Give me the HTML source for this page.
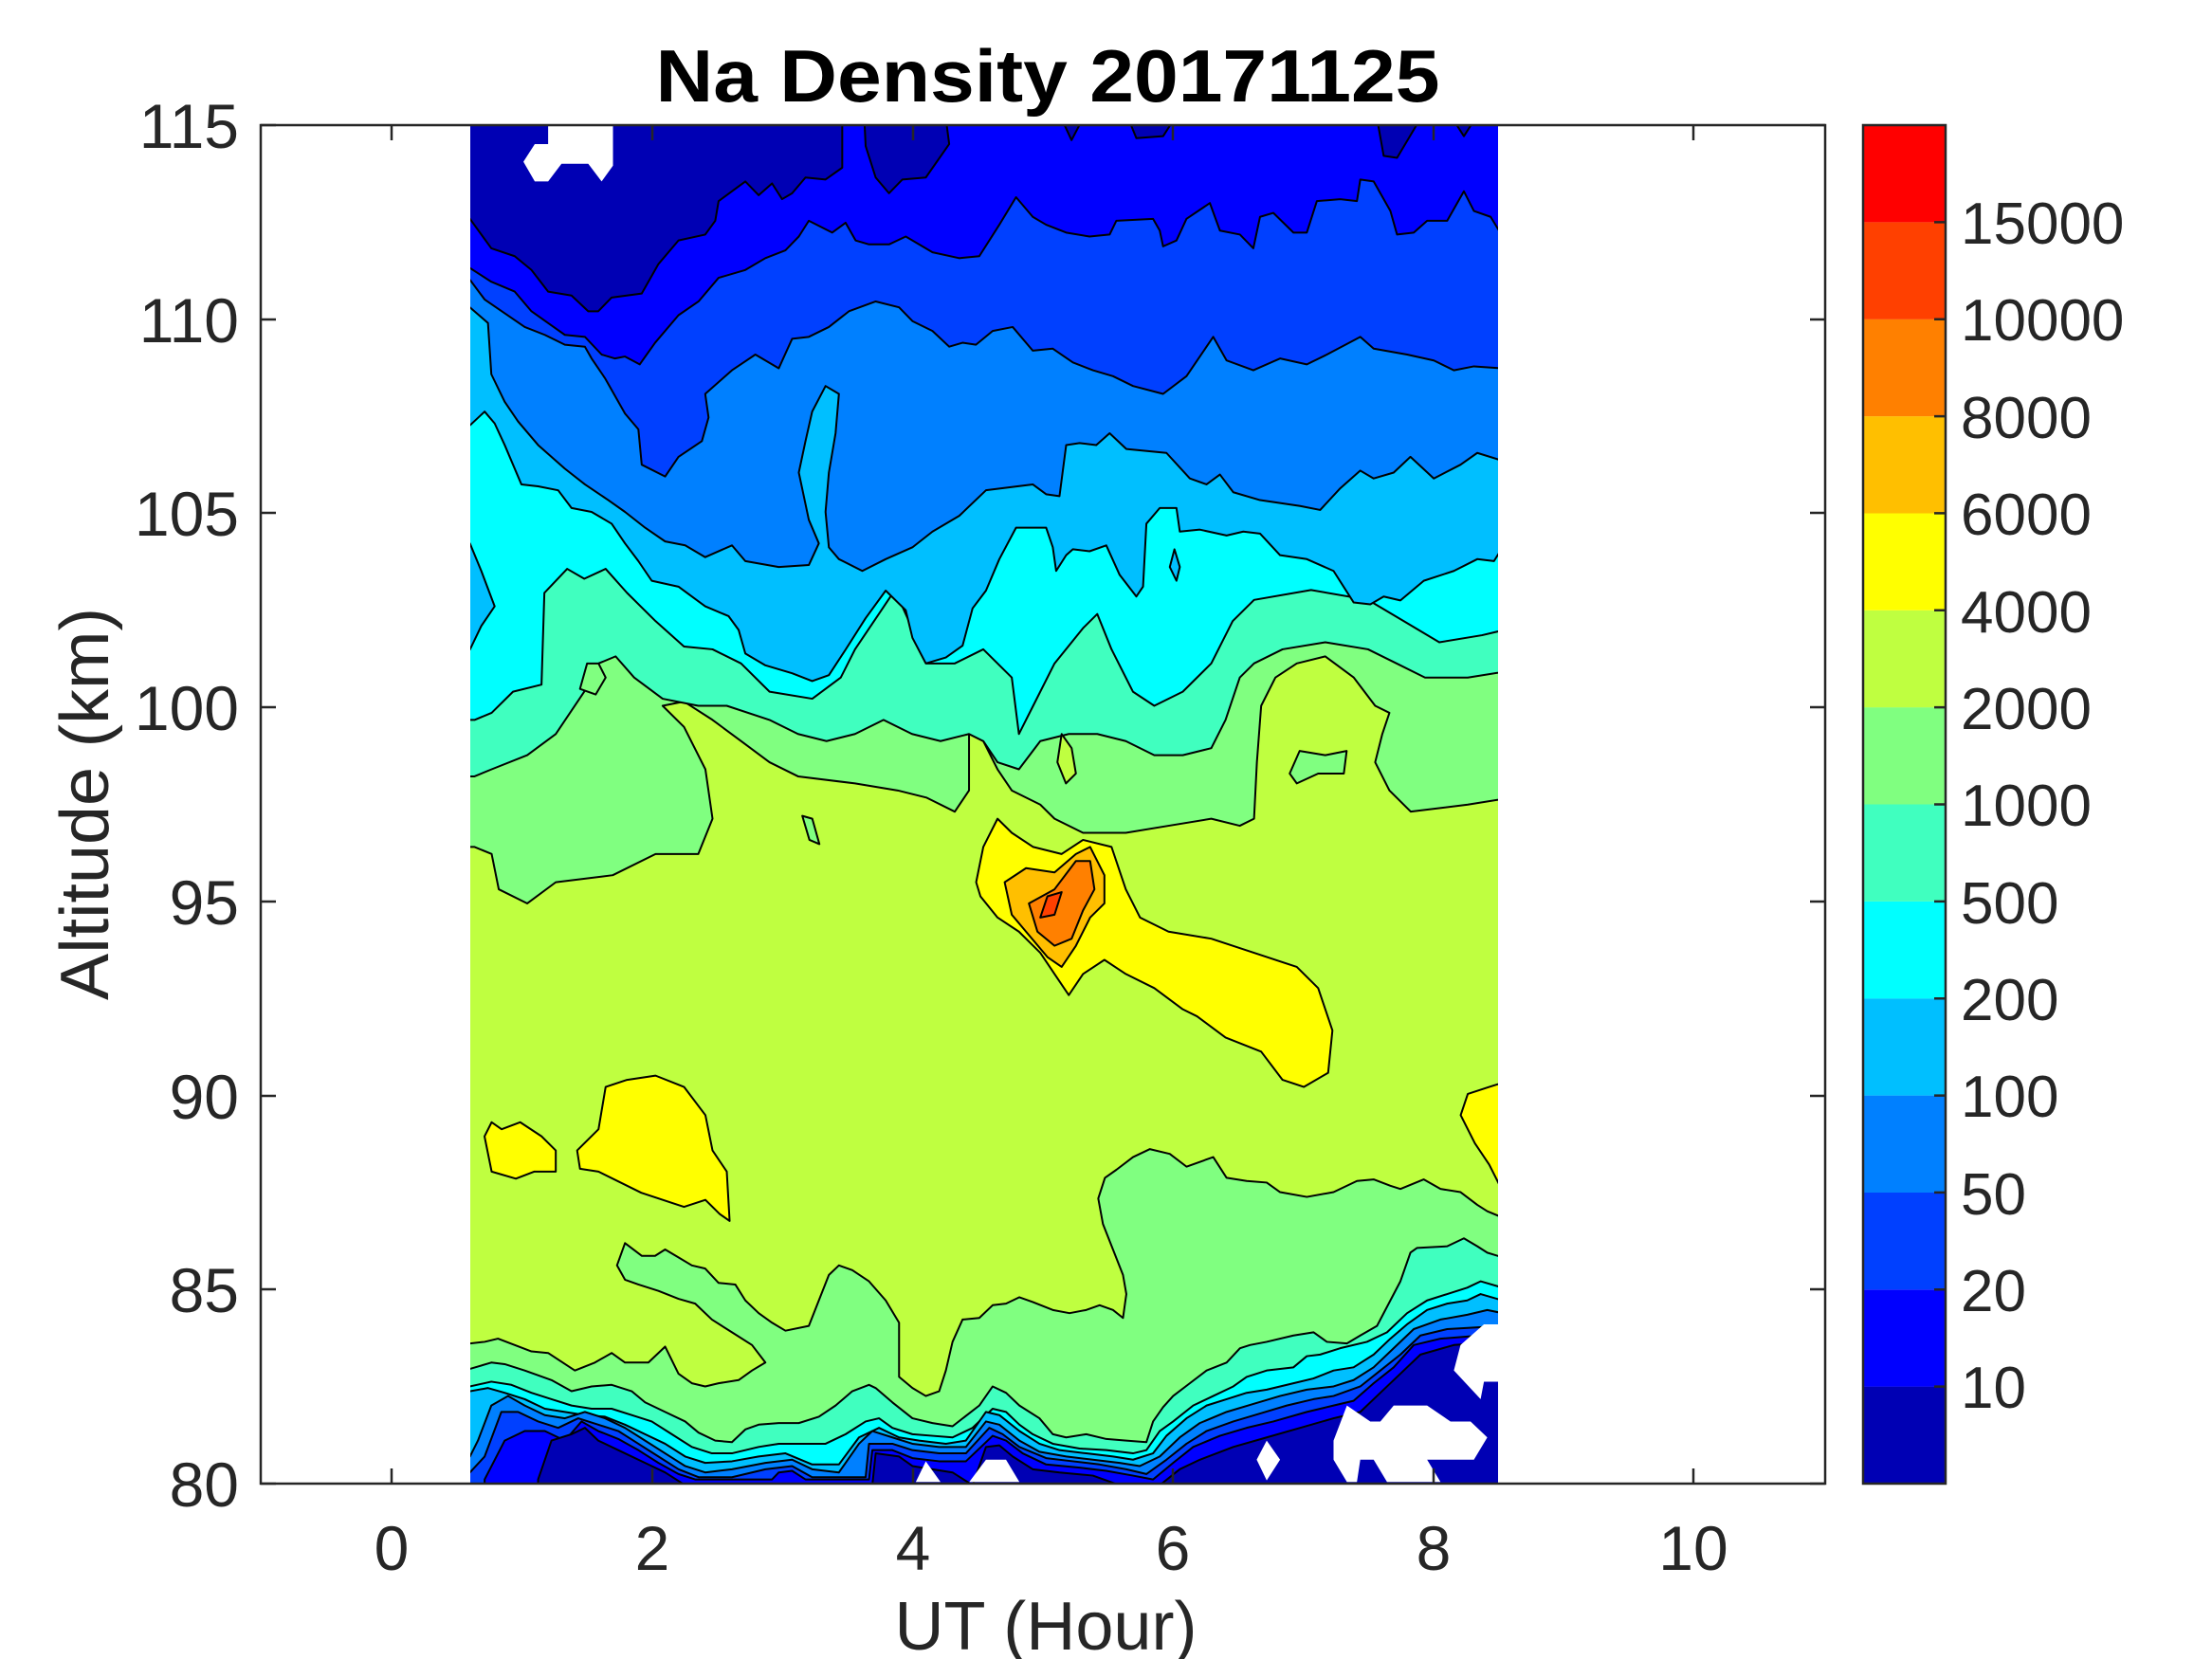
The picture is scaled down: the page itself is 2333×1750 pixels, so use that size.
<!DOCTYPE html>
<html><head><meta charset="utf-8"><style>html,body{margin:0;padding:0;background:#fff}svg{display:block}</style></head>
<body>
<svg width="2333" height="1750" viewBox="0 0 2333 1750" xmlns="http://www.w3.org/2000/svg" font-family="Liberation Sans, Arial, sans-serif">
<defs><clipPath id="dc"><rect x="496" y="132" width="1084" height="1433"/></clipPath></defs>
<rect x="275" y="132" width="1650" height="1433" fill="#fff"/>
<g clip-path="url(#dc)" stroke="#000" stroke-width="2" stroke-linejoin="round">
<rect x="496" y="132" width="1084" height="1433" fill="#BFFF40" stroke="none"/>
<g transform="scale(1.503,1.489)">
<polygon vector-effect="non-scaling-stroke" fill="#80FF80" points="333,600 345,605 350,630 370,640 390,625 430,620 460,605 490,605 500,580 495,545 480,515 465,500 480,497 500,510 520,525 540,540 560,550 600,555 630,560 650,565 670,575 680,560 680,520 690,525 700,545 710,560 730,570 740,580 760,590 790,590 820,585 850,580 870,585 880,580 882,540 885,500 895,480 910,470 930,465 950,480 965,500 975,505 970,520 965,540 975,560 990,575 1030,570 1061,565 1070,565 1070,80 325,80 325,600"/>
<polygon vector-effect="non-scaling-stroke" fill="#40FFBF" points="333,550 345,545 370,535 390,520 410,490 420,470 432,465 445,480 465,495 490,500 510,500 540,510 560,520 580,525 600,520 620,510 640,520 660,525 680,520 690,525 700,540 715,545 730,525 750,520 770,520 790,525 810,535 830,535 850,530 860,510 870,480 880,470 900,460 930,455 960,460 980,470 1000,480 1030,480 1061,475 1070,475 1070,80 325,80 325,550"/>
<polygon vector-effect="non-scaling-stroke" fill="#00FFFF" points="333,510 345,505 360,490 380,485 382,420 398,403 410,410 425,403 440,420 460,440 480,458 500,460 520,470 540,490 570,495 590,480 600,460 620,430 628,418 640,445 650,470 670,470 690,460 710,480 715,520 725,500 740,470 760,445 770,435 780,460 795,490 810,500 830,490 850,470 865,440 880,425 920,418 960,425 985,440 1010,455 1040,450 1061,445 1070,445 1070,80 325,80 325,510"/>
</g>
<g transform="translate(490,125) scale(0.705,0.415)">
<polygon vector-effect="non-scaling-stroke" fill="#00BFFF" points="0,780 8,780 30,745 45,775 60,830 70,870 85,930 110,935 140,945 160,990 190,1000 220,1030 240,1080 260,1125 280,1175 320,1190 360,1240 395,1265 410,1300 420,1360 450,1390 490,1410 520,1430 545,1415 570,1350 600,1270 630,1200 660,1250 670,1320 690,1385 720,1370 745,1340 760,1245 780,1200 800,1120 825,1040 870,1040 880,1090 885,1150 900,1110 910,1095 935,1100 960,1085 980,1160 1005,1215 1015,1190 1020,1030 1040,990 1065,990 1070,1050 1100,1045 1140,1060 1165,1050 1190,1055 1220,1110 1260,1120 1300,1150 1330,1230 1355,1235 1375,1215 1400,1225 1435,1175 1480,1150 1515,1120 1540,1125 1553,1090 1570,1090 1570,0 0,0"/>
<polygon vector-effect="non-scaling-stroke" fill="#00BFFF" points="0,1080 8,1080 25,1150 45,1240 25,1290 8,1350 0,1350"/>
<polygon vector-effect="non-scaling-stroke" fill="#00BFFF" points="1062,1095 1070,1140 1065,1175 1055,1140"/>
<polygon vector-effect="non-scaling-stroke" fill="#0080FF" points="0,480 8,480 35,520 40,650 60,720 80,770 110,830 150,890 180,930 215,970 240,1000 270,1040 300,1075 330,1085 360,1115 400,1085 420,1125 470,1140 515,1135 530,1080 515,1020 500,900 510,820 520,745 540,680 560,700 555,800 545,900 540,1000 545,1090 560,1120 595,1150 630,1120 670,1090 700,1050 740,1010 780,945 850,930 870,955 890,960 900,830 920,825 945,830 965,800 990,840 1050,850 1085,915 1110,930 1130,905 1150,950 1190,970 1250,985 1280,995 1310,940 1340,895 1360,915 1390,900 1415,860 1450,915 1490,880 1515,850 1553,870 1570,870 1570,0 0,0"/>
<polygon vector-effect="non-scaling-stroke" fill="#0040FF" points="0,410 8,410 30,460 60,495 90,530 120,550 150,575 180,580 190,610 210,660 240,750 260,790 265,880 300,910 320,860 355,820 365,760 360,700 400,640 435,600 470,635 490,560 515,555 545,530 575,490 615,465 650,480 670,515 700,540 725,580 745,570 765,575 790,540 820,530 850,590 880,585 910,620 940,640 970,655 1000,680 1045,700 1080,655 1120,555 1140,615 1180,640 1220,610 1260,625 1290,600 1340,555 1360,585 1410,600 1450,615 1480,640 1510,630 1553,635 1570,635 1570,0 0,0"/>
<polygon vector-effect="non-scaling-stroke" fill="#0000FF" points="0,380 8,380 40,415 75,440 100,490 125,520 150,550 180,555 205,600 225,610 240,605 262,625 285,570 320,500 350,465 380,405 420,385 450,355 480,335 500,300 515,260 550,290 570,265 585,310 605,320 635,320 660,300 700,340 740,355 770,350 800,270 825,200 850,250 870,270 900,290 935,300 965,295 975,260 1030,255 1040,285 1045,325 1065,310 1080,255 1115,215 1130,285 1160,295 1180,330 1190,250 1210,240 1240,290 1260,290 1275,210 1310,205 1335,210 1340,155 1360,160 1385,235 1395,295 1420,290 1440,260 1470,260 1495,185 1510,235 1535,250 1553,300 1570,300 1570,0 0,0"/>
<polygon vector-effect="non-scaling-stroke" fill="#0000B4" points="0,0 565,0 565,125 540,155 510,150 490,190 475,205 460,165 440,195 420,160 380,210 375,260 360,295 320,310 290,370 265,445 220,455 200,490 185,490 160,450 125,440 100,385 75,350 40,330 8,255 0,255"/>
<polygon vector-effect="non-scaling-stroke" fill="#0000B4" points="598,0 720,0 725,65 690,150 655,155 635,190 615,150 600,70"/>
<polygon vector-effect="non-scaling-stroke" fill="#0000B4" points="893,0 925,0 908,55"/>
<polygon vector-effect="non-scaling-stroke" fill="#0000B4" points="993,0 1062,0 1045,45 1005,50"/>
<polygon vector-effect="non-scaling-stroke" fill="#0000B4" points="1365,0 1430,0 1395,100 1375,95"/>
<polygon vector-effect="non-scaling-stroke" fill="#0000B4" points="1478,0 1512,0 1495,45"/>
<polygon fill="#fff" stroke="none" points="88,110 105,65 125,65 125,15 222,15 222,120 205,160 185,115 145,115 125,160 105,160"/>
</g>
<g transform="translate(490,1150) scale(0.705,0.336)">
<polygon vector-effect="non-scaling-stroke" fill="#80FF80" points="0,795 8,795 30,790 50,780 75,800 100,820 125,825 165,880 195,855 220,825 240,855 275,855 300,805 320,890 340,920 360,930 380,920 410,910 430,880 450,855 430,800 400,760 370,720 345,670 320,655 290,630 260,610 240,595 228,550 240,480 265,520 285,520 300,500 320,525 340,550 360,560 380,605 405,610 420,660 440,700 460,730 480,755 515,740 530,660 545,580 560,550 580,565 605,600 630,660 650,730 650,900 670,935 690,960 710,945 720,880 730,790 745,720 770,715 790,675 810,670 830,650 850,665 880,690 905,700 930,690 950,675 970,690 985,715 990,640 985,580 970,500 955,420 948,340 958,275 975,250 1000,210 1025,185 1055,200 1080,240 1120,210 1140,275 1170,285 1200,290 1220,320 1260,335 1300,320 1335,285 1360,280 1385,300 1400,310 1435,280 1460,310 1490,320 1515,360 1530,380 1553,400 1570,400 1570,1240 0,1240"/>
<polygon vector-effect="non-scaling-stroke" fill="#40FFBF" points="0,875 8,875 40,855 60,860 90,880 130,910 160,945 190,930 220,925 250,945 270,980 300,1010 330,1040 350,1075 375,1100 400,1105 420,1065 440,1050 470,1045 500,1045 530,1025 555,990 580,945 605,925 615,935 640,980 670,1030 700,1045 730,1055 770,990 790,930 810,950 830,990 860,1030 880,1080 900,1090 930,1080 960,1095 990,1100 1020,1105 1030,1040 1045,995 1060,960 1085,920 1110,880 1140,855 1160,810 1175,800 1200,790 1240,770 1270,760 1290,790 1320,795 1340,770 1365,740 1385,660 1400,600 1415,510 1425,495 1470,490 1495,465 1515,490 1530,510 1553,525 1570,525 1570,1240 0,1240"/>
<polygon vector-effect="non-scaling-stroke" fill="#00FFFF" points="0,930 8,930 40,915 70,925 100,950 130,970 160,990 190,1000 220,1000 250,1020 280,1040 310,1080 340,1120 370,1140 400,1140 440,1120 470,1110 500,1110 540,1110 570,1080 600,1040 620,1030 640,1060 670,1080 700,1085 730,1090 760,1060 790,1000 810,1010 830,1050 850,1080 880,1110 920,1125 960,1130 1000,1140 1020,1130 1040,1070 1060,1040 1090,990 1120,960 1150,930 1170,900 1200,880 1240,870 1260,835 1280,830 1310,810 1350,790 1380,760 1410,700 1440,660 1470,640 1500,620 1520,600 1553,620 1570,620 1570,1240 0,1240"/>
<polygon vector-effect="non-scaling-stroke" fill="#00BFFF" points="0,945 8,945 35,935 60,950 90,970 120,1000 150,1010 180,1020 210,1025 240,1050 270,1080 300,1110 330,1150 360,1170 400,1165 440,1150 480,1140 520,1175 560,1175 590,1090 620,1060 650,1090 680,1100 720,1110 750,1100 780,1010 800,1020 830,1070 860,1110 890,1130 930,1140 970,1150 1000,1160 1030,1140 1050,1085 1080,1030 1110,990 1140,970 1170,950 1200,940 1240,920 1270,905 1300,880 1330,870 1360,830 1385,780 1410,735 1440,690 1470,670 1500,660 1520,640 1553,660 1570,660 1570,1240 0,1240"/>
<polygon vector-effect="non-scaling-stroke" fill="#0080FF" points="0,1150 8,1150 20,1100 40,990 65,960 90,990 120,1020 150,1030 180,1010 210,1030 240,1060 270,1100 300,1140 330,1180 360,1200 400,1190 450,1170 490,1160 520,1190 560,1200 590,1110 610,1070 640,1090 670,1110 710,1120 750,1120 780,1040 800,1050 830,1100 860,1135 900,1150 940,1160 980,1170 1010,1180 1040,1150 1070,1090 1100,1045 1140,1010 1180,985 1220,960 1260,940 1300,930 1330,910 1360,870 1390,810 1420,750 1460,720 1500,705 1530,690 1553,700 1570,700 1570,1240 0,1240"/>
<polygon vector-effect="non-scaling-stroke" fill="#0040FF" points="0,1200 8,1200 30,1150 55,1010 80,1010 110,1040 140,1060 170,1030 200,1050 230,1070 260,1110 290,1150 320,1190 350,1215 400,1215 450,1190 490,1180 520,1215 600,1215 605,1110 640,1110 670,1130 710,1140 750,1140 785,1060 805,1080 830,1120 870,1155 910,1165 950,1175 990,1190 1020,1205 1050,1160 1080,1110 1110,1070 1150,1040 1190,1015 1230,990 1270,970 1300,960 1340,930 1370,880 1400,830 1430,770 1470,750 1510,745 1553,740 1570,740 1570,1240 0,1240"/>
<polygon vector-effect="non-scaling-stroke" fill="#0000FF" points="30,1240 30,1222 60,1100 90,1070 120,1070 150,1100 175,1040 200,1070 230,1095 260,1130 290,1170 320,1205 345,1222 460,1222 470,1200 490,1195 510,1222 605,1222 610,1130 640,1130 670,1155 710,1165 750,1165 790,1085 810,1100 835,1140 870,1175 920,1185 960,1195 1000,1210 1030,1222 1060,1170 1090,1120 1130,1085 1170,1060 1210,1040 1260,1010 1300,990 1330,975 1360,920 1390,870 1420,800 1460,780 1520,770 1553,760 1570,760 1570,1240"/>
<polygon vector-effect="non-scaling-stroke" fill="#0000B4" points="110,1240 110,1222 130,1100 160,1080 180,1060 200,1100 240,1140 270,1170 300,1200 330,1240"/>
<polygon vector-effect="non-scaling-stroke" fill="#0000B4" points="610,1240 615,1140 650,1150 670,1180 700,1190 730,1200 760,1240"/>
<polygon vector-effect="non-scaling-stroke" fill="#0000B4" points="760,1240 780,1120 800,1115 820,1150 850,1190 890,1200 940,1210 980,1240"/>
<polygon vector-effect="non-scaling-stroke" fill="#0000B4" points="1040,1240 1070,1190 1100,1160 1150,1120 1200,1090 1250,1060 1300,1030 1340,1010 1370,950 1400,890 1430,830 1480,800 1553,790 1570,790 1570,1240"/>
<g fill="#fff" stroke="none">
<polygon points="1525,735 1570,735 1570,915 1525,915 1520,970 1480,880 1490,800"/>
<polygon points="1185,1160 1200,1100 1220,1160 1200,1225"/>
<polygon points="675,1230 690,1165 712,1230"/>
<polygon points="755,1230 780,1160 810,1160 830,1230"/>
<polygon points="1300,1100 1320,990 1355,1040 1370,1040 1390,990 1440,990 1475,1040 1505,1040 1530,1090 1510,1160 1440,1160 1460,1230 1380,1230 1360,1160 1340,1160 1335,1230 1320,1230 1300,1160"/>
</g>
</g>
<g transform="scale(1.503,1.489)">
<polygon vector-effect="non-scaling-stroke" fill="#80FF80" points="563,578 570,580 575,598 568,595"/>
<polygon vector-effect="non-scaling-stroke" fill="#BFFF40" points="745,520 752,530 755,548 748,555 742,540"/>
<polygon vector-effect="non-scaling-stroke" fill="#80FF80" points="905,548 912,532 930,535 945,532 943,548 925,548 910,555"/>
<polygon vector-effect="non-scaling-stroke" fill="#80FF80" points="407,488 412,470 420,470 425,480 418,492"/>
<polygon vector-effect="non-scaling-stroke" fill="#FFFF00" points="685,625 690,600 700,580 710,590 725,600 745,605 760,595 780,600 790,630 800,650 820,660 850,665 880,675 910,685 925,700 935,730 932,760 915,770 900,765 885,745 860,735 840,720 830,715 810,700 790,690 775,680 760,690 750,705 740,690 730,675 715,660 700,650 688,635"/>
<polygon vector-effect="non-scaling-stroke" fill="#FFBF00" points="705,625 720,615 740,618 755,605 765,600 775,620 775,640 765,650 755,670 745,685 735,678 720,660 710,648"/>
<polygon vector-effect="non-scaling-stroke" fill="#FF8000" points="722,640 740,630 755,610 765,610 768,630 760,645 752,665 740,670 728,660"/>
<polygon vector-effect="non-scaling-stroke" fill="#FF4000" points="730,650 735,635 745,632 740,648"/>
<polygon vector-effect="non-scaling-stroke" fill="#FFFF00" points="405,815 420,800 425,770 440,765 460,762 480,770 495,790 500,815 510,830 512,865 505,860 495,850 480,855 450,845 420,830 407,828"/>
<polygon vector-effect="non-scaling-stroke" fill="#FFFF00" points="340,805 345,795 352,800 365,795 380,805 390,815 390,830 375,830 362,835 345,830"/>
<polygon vector-effect="non-scaling-stroke" fill="#FFFF00" points="1061,765 1045,770 1030,775 1025,790 1035,810 1045,825 1055,845 1061,860 1070,860 1070,765"/>
</g>
</g>
<rect x="275" y="132" width="1650" height="1433" fill="none" stroke="#262626" stroke-width="2.5"/>
<g stroke="#262626" stroke-width="2.5">
<path d="M413,1565v-16M413,132v16M688,1565v-16M688,132v16M963,1565v-16M963,132v16M1237,1565v-16M1237,132v16M1512,1565v-16M1512,132v16M1786,1565v-16M1786,132v16"/>
<path d="M275,132h16M1925,132h-16M275,337h16M1925,337h-16M275,541h16M1925,541h-16M275,746h16M1925,746h-16M275,951h16M1925,951h-16M275,1156h16M1925,1156h-16M275,1360h16M1925,1360h-16M275,1565h16M1925,1565h-16"/>
</g>
<g fill="#262626" font-size="66" text-anchor="end">
<text x="252" y="156">115</text><text x="252" y="361">110</text><text x="252" y="565">105</text><text x="252" y="770">100</text><text x="252" y="975">95</text><text x="252" y="1180">90</text><text x="252" y="1384">85</text><text x="252" y="1589">80</text>
</g>
<g fill="#262626" font-size="66" text-anchor="middle">
<text x="413" y="1656">0</text><text x="688" y="1656">2</text><text x="963" y="1656">4</text><text x="1237" y="1656">6</text><text x="1512" y="1656">8</text><text x="1786" y="1656">10</text>
</g>
<text x="1105" y="107" font-size="78" font-weight="bold" text-anchor="middle" textLength="827" lengthAdjust="spacingAndGlyphs">Na Density 20171125</text>
<text x="1103" y="1740" font-size="72" fill="#262626" text-anchor="middle" textLength="319" lengthAdjust="spacingAndGlyphs">UT (Hour)</text>
<text transform="translate(114,848) rotate(-90)" font-size="72" fill="#262626" text-anchor="middle" textLength="414" lengthAdjust="spacingAndGlyphs">Altitude (km)</text>
<g>
<rect x="1965" y="1462.6" width="87" height="102.4" fill="#0000B4"/>
<rect x="1965" y="1360.3" width="87" height="102.4" fill="#0000FF"/>
<rect x="1965" y="1257.9" width="87" height="102.4" fill="#0040FF"/>
<rect x="1965" y="1155.6" width="87" height="102.4" fill="#0080FF"/>
<rect x="1965" y="1053.2" width="87" height="102.4" fill="#00BFFF"/>
<rect x="1965" y="950.9" width="87" height="102.4" fill="#00FFFF"/>
<rect x="1965" y="848.5" width="87" height="102.4" fill="#40FFBF"/>
<rect x="1965" y="746.1" width="87" height="102.4" fill="#80FF80"/>
<rect x="1965" y="643.8" width="87" height="102.4" fill="#BFFF40"/>
<rect x="1965" y="541.4" width="87" height="102.4" fill="#FFFF00"/>
<rect x="1965" y="439.1" width="87" height="102.4" fill="#FFBF00"/>
<rect x="1965" y="336.7" width="87" height="102.4" fill="#FF8000"/>
<rect x="1965" y="234.4" width="87" height="102.4" fill="#FF4000"/>
<rect x="1965" y="132" width="87" height="102.4" fill="#FF0000"/>
<rect x="1965" y="132" width="87" height="1433" fill="none" stroke="#262626" stroke-width="2.5"/>
<g stroke="#262626" stroke-width="2.5"><path d="M2052,1462.6h-12M2052,1360.3h-12M2052,1257.9h-12M2052,1155.6h-12M2052,1053.2h-12M2052,950.9h-12M2052,848.5h-12M2052,746.1h-12M2052,643.8h-12M2052,541.4h-12M2052,439.1h-12M2052,336.7h-12M2052,234.4h-12"/></g>
<g fill="#262626" font-size="62">
<text x="2068" y="1485">10</text><text x="2068" y="1383">20</text><text x="2068" y="1281">50</text><text x="2068" y="1178">100</text><text x="2068" y="1076">200</text><text x="2068" y="974">500</text><text x="2068" y="871">1000</text><text x="2068" y="769">2000</text><text x="2068" y="667">4000</text><text x="2068" y="564">6000</text><text x="2068" y="462">8000</text><text x="2068" y="359">10000</text><text x="2068" y="257">15000</text>
</g>
</g>
</svg>
</body></html>
